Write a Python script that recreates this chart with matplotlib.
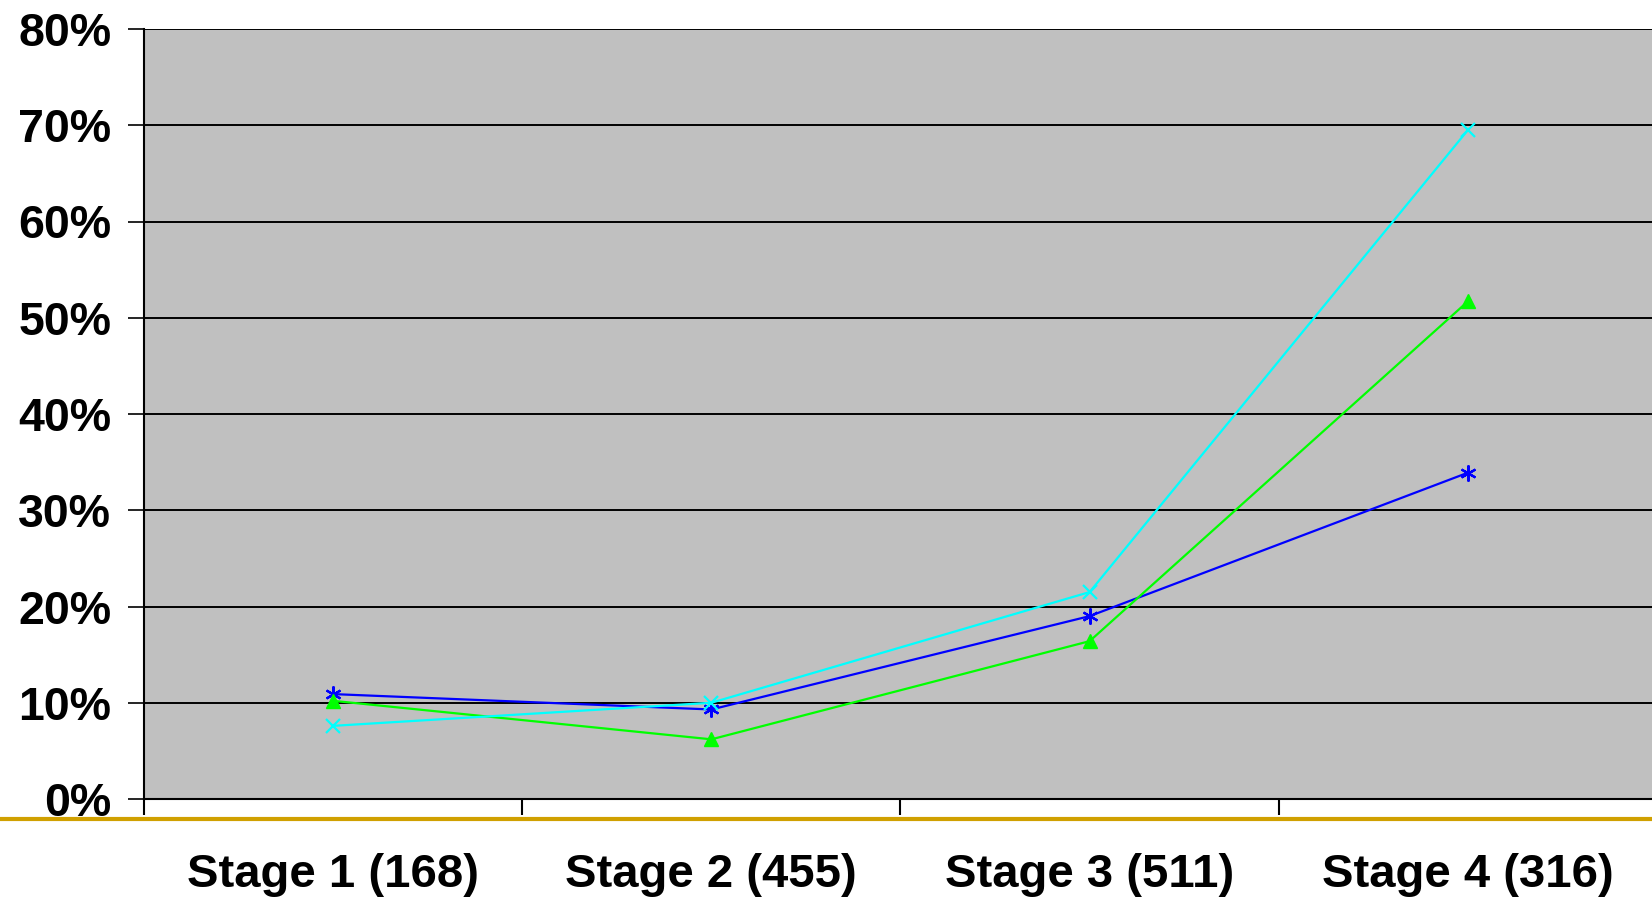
import matplotlib.pyplot as plt
from matplotlib.lines import Line2D
from matplotlib.ticker import FixedLocator, PercentFormatter

# Stage labels and the share in each stage, per series (percent)
stages = ['Stage 1 (168)', 'Stage 2 (455)', 'Stage 3 (511)', 'Stage 4 (316)']
blue_vals = [10.9, 9.3, 19.0, 33.9]
green_vals = [10.2, 6.2, 16.4, 51.7]
cyan_vals = [7.6, 10.0, 21.5, 69.5]
y_ticks = [0, 10, 20, 30, 40, 50, 60, 70, 80]

plt.rcParams['font.family'] = ['Liberation Sans', 'DejaVu Sans']
plt.rcParams['font.weight'] = 'bold'

fig = plt.figure(figsize=(16.52, 8.98), dpi=100)
ax = fig.add_axes([144 / 1652, 99 / 898, 1513 / 1652, 770 / 898])
ax.set_facecolor('#C0C0C0')

x = [i + 0.5 for i in range(len(stages))]
ax.plot(x, blue_vals, color='#0000FF', lw=1.6, marker=(6, 2, 0), ms=11.5, mew=1.6, clip_on=False)
ax.plot(x, green_vals, color='#00FF00', lw=1.6, marker='^', ms=10, clip_on=False)
ax.plot(x, cyan_vals, color='#00FFFF', lw=1.6, marker='x', ms=10, mew=1.6, clip_on=False)

ax.set_xlim(0, len(stages))
ax.set_ylim(0, 80)

# horizontal gridlines
ax.set_yticks(y_ticks)
ax.yaxis.set_major_formatter(PercentFormatter(decimals=0))
ax.grid(axis='y', color='black', lw=1.4)
ax.set_axisbelow(True)

# category boundaries get tick marks, category centres get the labels
ax.xaxis.set_major_locator(FixedLocator(range(len(stages) + 1)))
ax.xaxis.set_major_formatter(plt.NullFormatter())
ax.xaxis.set_minor_locator(FixedLocator(x))
ax.set_xticklabels(stages, minor=True)
ax.tick_params(axis='x', which='major', length=11.5, width=1.5, direction='out')
ax.tick_params(axis='x', which='minor', length=0, pad=39, labelsize=34)
ax.tick_params(axis='y', length=11.5, width=1.2, pad=12, labelsize=33.5)

for side in ['right', 'top']:
    ax.spines[side].set_visible(False)
ax.spines['left'].set_linewidth(1.5)
ax.spines['bottom'].set_linewidth(1.5)

# gold rule across the whole slide
fig.add_artist(Line2D([0, 1], [1 - 819 / 898, 1 - 819 / 898], color='#D0A000', lw=3,
                      transform=fig.transFigure))

fig.savefig('out.png', dpi=100)
